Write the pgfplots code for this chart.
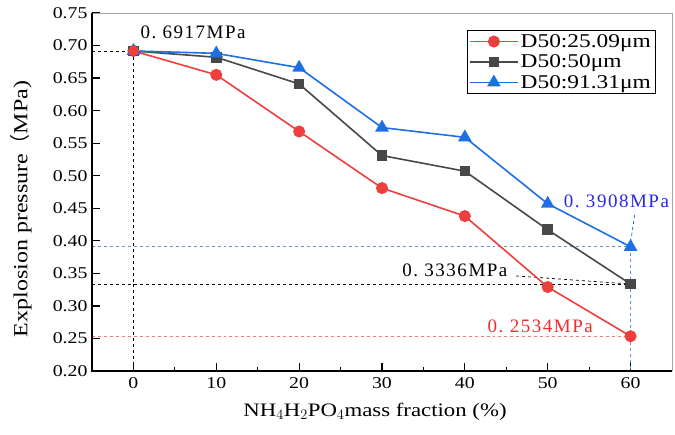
\documentclass[border=0pt]{standalone}
\usepackage{pgfplots}
\pgfplotsset{compat=1.18}
\usepackage{fontspec}
\setmainfont{Liberation Serif}[FakeStretch=1.2]
\newfontfamily\annfont{Liberation Serif}[LetterSpace=8]
\newfontfamily\cjk{Noto Sans CJK SC}
\definecolor{cred}{RGB}{238,62,62}
\definecolor{cgray}{RGB}{72,72,72}
\definecolor{cblue}{RGB}{30,110,228}
\definecolor{lred}{RGB}{248,120,120}
\definecolor{lblue}{RGB}{95,145,220}
\definecolor{tblue}{RGB}{40,40,235}
\definecolor{tred}{RGB}{240,45,45}

\pgfplotstableread{
x y
0 0.6917
10 0.655
20 0.568
30 0.481
40 0.438
50 0.329
60 0.2534
}\datared
\pgfplotstableread{
x y
0 0.6917
10 0.682
20 0.641
30 0.531
40 0.507
50 0.417
60 0.3336
}\datagray
\pgfplotstableread{
x y
0 0.6917
10 0.688
20 0.666
30 0.574
40 0.559
50 0.457
60 0.3908
}\datablue

\begin{document}
\begin{tikzpicture}
\path[use as bounding box] (-92bp,-64bp) rectangle (583bp,371bp);
\begin{axis}[
  at={(0,0)}, anchor=south west,
  scale only axis, width=580bp, height=358bp,
  xmin=-5, xmax=65, ymin=0.2, ymax=0.75,
  xtick={0,10,20,30,40,50,60},
  minor xtick={5,15,25,35,45,55},
  ytick={0.20,0.25,0.30,0.35,0.40,0.45,0.50,0.55,0.60,0.65,0.70,0.75},
  axis line style={draw=none},
  tick align=inside, tick pos=left,
  major tick length=8bp, minor tick length=4bp,
  tick style={black, line width=1.2bp},
  /pgf/number format/assume math mode=true,
  xticklabel style={font=\fontsize{16.5bp}{18bp}\selectfont, yshift=-3bp},
  yticklabel style={font=\fontsize{16.5bp}{18bp}\selectfont, xshift=-1bp,
     /pgf/number format/.cd, fixed, fixed zerofill, precision=2},
  clip=false,
  legend style={at={(rel axis cs:0.971,0.9525)}, anchor=north east,
     draw=black, line width=0.6bp, font=\fontsize{19.5bp}{21bp}\selectfont,
     inner sep=2bp, row sep=2bp},
  legend cell align=left,
  legend image code/.code={%
    \draw[mark repeat=2,mark phase=2] plot coordinates {(0bp,0bp) (24bp,0bp) (48bp,0bp)};},
]
% reference lines
\addplot[forget plot, black, dashed, line width=0.7bp] coordinates {(-5,0.6917) (0,0.6917) (0,0.2)};
\addplot[forget plot, lblue, dashed, line width=0.8bp] coordinates {(-5,0.3908) (60,0.3908)};
\addplot[forget plot, black, dashed, line width=0.7bp] coordinates {(-5,0.3336) (60,0.3336)};
\addplot[forget plot, lred, dashed, line width=0.8bp] coordinates {(-5,0.2534) (60,0.2534)};
\addplot[forget plot, cred, dashed, line width=0.8bp] coordinates {(60,0.2534) (60,0.2)};
\addplot[forget plot, lblue, dashed, line width=0.8bp] coordinates {(60,0.3908) (60,0.2)};
\addplot[forget plot, cblue, dashed, line width=0.8bp] coordinates {(60.5,0.4397) (60,0.398)};
\addplot[forget plot, black, dashed, line width=0.7bp] coordinates {(46.2,0.346) (60,0.3336)};
% series
\addplot[cred, line width=1.6bp, mark=*, mark size=5.2bp, mark options={solid, fill=cred, draw=cred}] table {\datared};
\addlegendentry{D50:25.09μm}
\addplot[cgray, line width=1.6bp, mark=square*, mark size=4.5bp, mark options={solid, fill=cgray, draw=cgray}] table {\datagray};
\addlegendentry{D50:50μm}
\addplot[cblue, line width=1.6bp, mark=triangle*, mark size=6.3bp, mark options={solid, fill=cblue, draw=cblue}] table {\datablue};
\addlegendentry{D50:91.31μm}
\addplot[forget plot, only marks, cred, mark=*, mark size=5.2bp, mark options={solid, fill=cred, draw=cred}] coordinates {(0,0.6917)};
% axis frame
\draw[gray!70, line width=0.8bp] (rel axis cs:0,1) -- (rel axis cs:1,1) -- (rel axis cs:1,0);
\draw[black, line width=1.8bp] (rel axis cs:0,1) -- (rel axis cs:0,0) -- (rel axis cs:1,0);
% annotations
\node[font=\annfont\fontsize{19bp}{21bp}\selectfont, text=black] at (axis cs:7.2,0.721) {0.\ 6917MPa};
\node[font=\annfont\fontsize{19bp}{21bp}\selectfont, text=tblue] at (axis cs:58.3,0.461) {0.\ 3908MPa};
\node[font=\annfont\fontsize{19bp}{21bp}\selectfont, text=black] at (axis cs:38.8,0.354) {0.\ 3336MPa};
\node[font=\annfont\fontsize{19bp}{21bp}\selectfont, text=tred] at (axis cs:49.1,0.268) {0.\ 2534MPa};
\end{axis}
\node[font=\fontsize{19bp}{21bp}\selectfont] at (283bp,-41bp) {NH$_4$H$_2$PO$_4$mass fraction (\%)};
\node[rotate=90, font=\fontsize{20bp}{22bp}\selectfont] at (-71bp,162bp) {Explosion pressure{\cjk （}MPa)};
\end{tikzpicture}
\end{document}
